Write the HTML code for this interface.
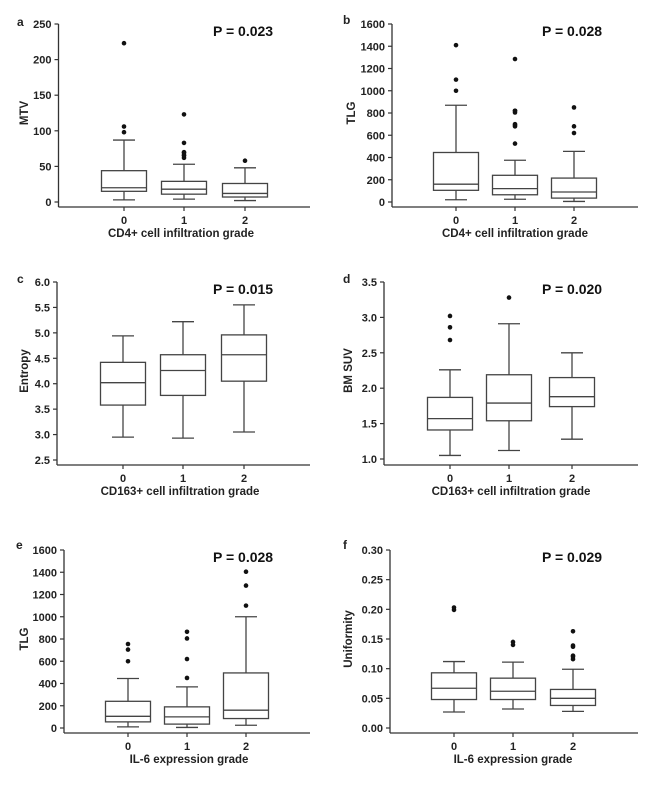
<!DOCTYPE html>
<html><head><meta charset="utf-8">
<style>
html,body{margin:0;padding:0;background:#fff;}
svg{display:block;font-family:"Liberation Sans",Arial,sans-serif;}
</style></head>
<body>
<svg id="fig" width="669" height="794" viewBox="0 0 669 794" xmlns="http://www.w3.org/2000/svg"></svg>
<script>
// ---- data ----
const categories = ["0","1","2"];
// each: [whiskerLow, q1, median, q3, whiskerHigh]
const statsA = [[3,15,20,44,87],[4,11,18,29,53],[2,7,12,26,48]];
const outA = [[98,106,223],[62,65,66,70,69,83,123],[58]];
const ticksA = [0,50,100,150,200,250];
const statsB = [[20,105,160,445,870],[25,65,120,240,375],[5,35,90,215,455]];
const outB = [[1000,1100,1410],[525,680,700,690,805,820,820,1285],[620,680,850]];
const ticksB = [0,200,400,600,800,1000,1200,1400,1600];
const statsC = [[2.95,3.58,4.02,4.42,4.94],[2.93,3.77,4.26,4.57,5.22],[3.05,4.05,4.57,4.96,5.55]];
const outC = [[],[],[]];
const ticksC = [2.5,3.0,3.5,4.0,4.5,5.0,5.5,6.0];
const statsD = [[1.05,1.41,1.57,1.87,2.26],[1.12,1.54,1.79,2.19,2.91],[1.28,1.74,1.88,2.15,2.50]];
const outD = [[2.68,2.86,3.02],[3.28],[]];
const ticksD = [1.0,1.5,2.0,2.5,3.0,3.5];
const statsE = [[10,55,105,240,445],[5,35,100,190,370],[25,85,160,495,1000]];
const outE = [[600,705,755],[450,620,805,865],[1100,1280,1405]];
const ticksE = [0,200,400,600,800,1000,1200,1400,1600];
const statsF = [[0.027,0.048,0.067,0.093,0.112],[0.032,0.048,0.062,0.084,0.111],[0.028,0.038,0.050,0.065,0.099]];
const outF = [[0.199,0.203],[0.140,0.145],[0.116,0.120,0.122,0.137,0.139,0.163]];
const ticksF = [0.00,0.05,0.10,0.15,0.20,0.25,0.30];

const NS="http://www.w3.org/2000/svg";
const svg=document.getElementById('fig');
function mk(tag,attrs,parent,text){
  const e=document.createElementNS(NS,tag);
  for(const k in attrs)e.setAttribute(k,attrs[k]);
  if(text!==undefined)e.textContent=text;
  (parent||svg).appendChild(e);return e;
}
function panel(cfg){
  const g=mk('g',{});
  
  
  const t0=cfg.ticks[0],t1=cfg.ticks[cfg.ticks.length-1];
  const y=v=>cfg.yBot+(v-t0)/(t1-t0)*(cfg.yTop-cfg.yBot);
  const x=i=>cfg.cx[i];
  const axc='#333';
  // y axis
  const ya=mk('line',{x1:cfg.ax,y1:cfg.yTop,x2:cfg.ax,y2:cfg.axisY,stroke:axc,'stroke-width':1.3},g);
  
  const xa=mk('line',{x1:cfg.ax,y1:cfg.axisY,x2:cfg.xEnd,y2:cfg.axisY,stroke:axc,'stroke-width':1.3},g);
  
  cfg.ticks.forEach(tv=>{
    mk('line',{x1:cfg.ax-4,y1:y(tv),x2:cfg.ax,y2:y(tv),stroke:axc,'stroke-width':1.2},g);
    const tl=mk('text',{x:cfg.ax-7,y:y(tv)+4,'text-anchor':'end','font-size':11,'font-weight':'bold',fill:'#222'},g,tv.toFixed(cfg.dec));
    
  });
  categories.forEach((c,i)=>{
    mk('line',{x1:x(i),y1:cfg.axisY,x2:x(i),y2:cfg.axisY+4,stroke:axc,'stroke-width':1.2},g);
    const xl=mk('text',{x:x(i),y:cfg.axisY+17,'text-anchor':'middle','font-size':11,'font-weight':'bold',fill:'#222'},g,c);
    
    const s=cfg.stats[i],hw=22.5;
    const bg=mk('g',{stroke:'#444','stroke-width':1.3,fill:'none'},g);
    
    mk('line',{x1:x(i),y1:y(s[0]),x2:x(i),y2:y(s[1])},bg);
    mk('line',{x1:x(i),y1:y(s[3]),x2:x(i),y2:y(s[4])},bg);
    mk('line',{x1:x(i)-11,y1:y(s[0]),x2:x(i)+11,y2:y(s[0])},bg);
    mk('line',{x1:x(i)-11,y1:y(s[4]),x2:x(i)+11,y2:y(s[4])},bg);
    mk('rect',{x:x(i)-hw,y:y(s[3]),width:2*hw,height:y(s[1])-y(s[3]),fill:'#fff'},bg);
    mk('line',{x1:x(i)-hw,y1:y(s[2]),x2:x(i)+hw,y2:y(s[2])},bg);
    cfg.outs[i].forEach((v,j)=>{
      const d=mk('circle',{cx:x(i)+((j%3)-1)*0*1,cy:y(v),r:2.3,fill:'#111'},g);
      
    });
  });
  const lt=mk('text',{x:cfg.lx,y:cfg.ly,'font-size':12,'font-weight':'bold',fill:'#222'},g,cfg.letter);
  
  const pt=mk('text',{x:cfg.px,y:cfg.py,'font-size':14,'font-weight':'bold',fill:'#111'},g,cfg.p);
  
  const xt=mk('text',{x:cfg.xlx,y:cfg.axisY+30,'text-anchor':'middle','font-size':11.5,'font-weight':'bold',fill:'#222'},g,cfg.xlabel);
  
  const yc=(cfg.yTop+cfg.yBot)/2;
  const yt=mk('text',{x:cfg.ylx,y:yc,'text-anchor':'middle','font-size':11.5,'font-weight':'bold',fill:'#222',transform:`rotate(-90 ${cfg.ylx} ${yc})`},g,cfg.ylabel);
  
}
panel({letter:'a',stats:statsA,outs:outA,ticks:ticksA,dec:0,ax:58.5,yTop:24,yBot:202,axisY:207,xEnd:310,cx:[124,184,245],lx:17,ly:26,px:213,py:36,p:'P = 0.023',xlabel:'CD4+ cell infiltration grade',xlx:181,ylabel:'MTV',ylx:28});
panel({letter:'b',stats:statsB,outs:outB,ticks:ticksB,dec:0,ax:392,yTop:24,yBot:202,axisY:207,xEnd:638,cx:[456,515,574],lx:343,ly:24,px:542,py:36,p:'P = 0.028',xlabel:'CD4+ cell infiltration grade',xlx:515,ylabel:'TLG',ylx:355});
panel({letter:'c',stats:statsC,outs:outC,ticks:ticksC,dec:1,ax:57,yTop:282,yBot:460,axisY:465,xEnd:310,cx:[123,183,244],lx:17,ly:283,px:213,py:294,p:'P = 0.015',xlabel:'CD163+ cell infiltration grade',xlx:180,ylabel:'Entropy',ylx:28});
panel({letter:'d',stats:statsD,outs:outD,ticks:ticksD,dec:1,ax:384,yTop:282,yBot:459,axisY:465,xEnd:638,cx:[450,509,572],lx:343,ly:283,px:542,py:294,p:'P = 0.020',xlabel:'CD163+ cell infiltration grade',xlx:511,ylabel:'BM SUV',ylx:352});
panel({letter:'e',stats:statsE,outs:outE,ticks:ticksE,dec:0,ax:64,yTop:550,yBot:728,axisY:733,xEnd:310,cx:[128,187,246],lx:16,ly:549,px:213,py:562,p:'P = 0.028',xlabel:'IL-6 expression grade',xlx:189,ylabel:'TLG',ylx:28});
panel({letter:'f',stats:statsF,outs:outF,ticks:ticksF,dec:2,ax:390,yTop:550,yBot:728,axisY:733,xEnd:638,cx:[454,513,573],lx:343,ly:549,px:542,py:562,p:'P = 0.029',xlabel:'IL-6 expression grade',xlx:513,ylabel:'Uniformity',ylx:352});
</script>
</body></html>
